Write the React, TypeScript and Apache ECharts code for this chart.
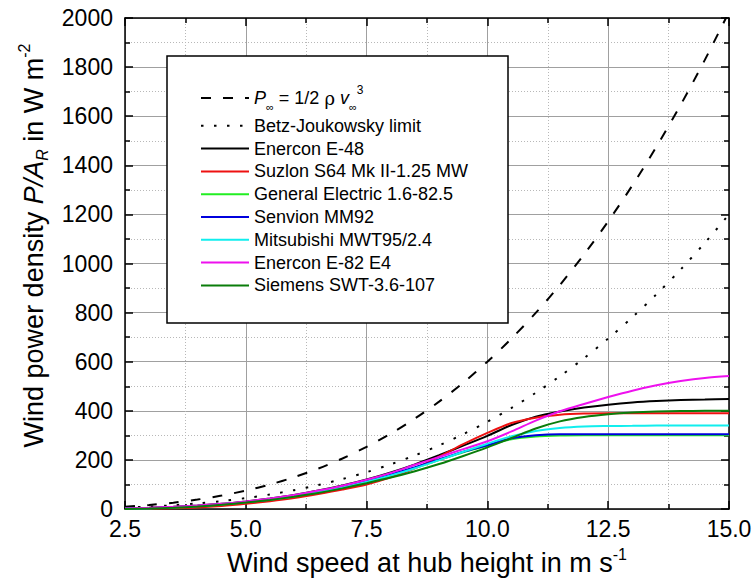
import React, { useEffect, useRef } from "react";
import * as echarts from "echarts";

const windSpeeds = [2.5, 3, 3.5, 4, 4.5, 5, 5.5, 6, 6.5, 7, 7.5, 8, 8.5, 9, 9.5, 10, 10.5, 11, 11.5, 12, 12.5, 13, 13.5, 14, 14.5, 15];

const windPower = [9.4, 16.2, 25.7, 38.4, 54.7, 75, 99.8, 129.6, 164.8, 205.8, 253.1, 307.2, 368.5, 437.4, 514.4, 600, 694.6, 798.6, 912.5, 1036.8, 1171.9, 1318.2, 1476.2, 1646.4, 1829.3, 2025];
const betzLimit = [5.6, 9.6, 15.2, 22.8, 32.4, 44.4, 59.2, 76.8, 97.6, 122, 150, 182, 218.4, 259.2, 304.8, 355.6, 411.6, 473.2, 540.8, 614.4, 694.4, 781.2, 874.8, 975.6, 1084, 1200];
const enerconE48 = [2, 5, 9, 14, 21, 31, 43, 57, 75, 96, 120, 149, 182, 219, 258, 298, 342, 376, 397, 413, 425, 434, 440, 444, 446, 448];
const suzlonS64 = [0, 1, 3, 6, 12, 21, 32, 45, 61, 79, 100, 129, 166, 213, 264, 310, 350, 372, 384, 389, 390, 390, 390, 390, 390, 390];
const ge16 = [1, 3, 6, 11, 18, 27, 38, 51, 68, 87, 110, 137, 167, 199, 231, 258, 284, 295, 299, 300, 300, 300, 300, 300, 300, 300];
const senvionMM92 = [1, 3, 7, 12, 19, 28, 39, 53, 70, 90, 113, 140, 170, 202, 233, 260, 288, 300, 304, 304, 304, 304, 304, 304, 304, 304];
const mitsubishiMWT95 = [1, 3, 7, 12, 19, 28, 39, 52, 69, 88, 111, 137, 166, 199, 233, 266, 296, 318, 330, 336, 338, 339, 340, 340, 340, 340];
const enerconE82 = [2, 5, 9, 14, 21, 31, 43, 57, 75, 95, 119, 147, 180, 212, 244, 276, 316, 360, 398, 428, 456, 482, 504, 521, 534, 542];
const siemensSWT36 = [0, 2, 5, 10, 17, 26, 37, 50, 65, 84, 105, 128, 154, 183, 216, 251, 289, 328, 357, 375, 386, 393, 397, 399, 400, 400];

const seriesNames = [
  "P_inf",
  "Betz-Joukowsky limit",
  "Enercon E-48",
  "Suzlon S64 Mk II-1.25 MW",
  "General Electric 1.6-82.5",
  "Senvion MM92",
  "Mitsubishi MWT95/2.4",
  "Enercon E-82 E4",
  "Siemens SWT-3.6-107",
];
const seriesValues = [windPower, betzLimit, enerconE48, suzlonS64, ge16, senvionMM92, mitsubishiMWT95, enerconE82, siemensSWT36];
const seriesColors = ["#000000", "#000000", "#000000", "#ee1111", "#22ee22", "#0000dd", "#11eeee", "#ee11ee", "#0a7d0a"];
const seriesDash: any[] = [[10, 12], [2.5, 10.5], "solid", "solid", "solid", "solid", "solid", "solid", "solid"];

const FONT = "'Liberation Sans', Arial, sans-serif";

export default function App() {
  const ref = useRef<HTMLDivElement>(null);
  useEffect(() => {
    if (!ref.current) return;
    const chart = echarts.init(ref.current, null, { renderer: "svg" });

    const series = seriesNames.map((name, k) => ({
      name,
      type: "line",
      data: windSpeeds.map((v, i) => [v, seriesValues[k][i]]),
      symbol: "none",
      showSymbol: false,
      smooth: 0.3,
      silent: true,
      clip: true,
      lineStyle: { color: seriesColors[k], width: 2, type: seriesDash[k] },
      itemStyle: { color: seriesColors[k] },
      z: 2,
    }));

    const minorSplit = { show: true, lineStyle: { color: "#b8b8b8", width: 1, type: [1, 2] } };
    const majorSplit = { show: true, lineStyle: { color: "#a0a0a0", width: 1, type: "solid" } };
    const axisLine = { show: true, onZero: false, lineStyle: { color: "#000", width: 1.5 } };
    const tick = { show: true, inside: true, length: 8, lineStyle: { color: "#000", width: 1.5 } };
    const minorTick = { show: true, splitNumber: 2, length: 5, lineStyle: { color: "#000", width: 1.5 } };

    const option: any = {
      animation: false,
      backgroundColor: "#fff",
      grid: { left: 125, right: 26, top: 18, bottom: 74, outerBoundsMode: "none", containLabel: false },
      xAxis: [
        {
          type: "value",
          min: 2.5,
          max: 15,
          interval: 2.5,
          position: "bottom",
          axisLine,
          axisTick: tick,
          minorTick,
          splitLine: majorSplit,
          minorSplitLine: minorSplit,
          axisLabel: { color: "#000", fontSize: 23, fontFamily: FONT, margin: 8, formatter: (v: number) => v.toFixed(1) },
          name: "Wind speed at hub height in m s{sup|-1}",
          nameLocation: "middle",
          nameGap: 37,
          nameTextStyle: {
            color: "#000",
            fontSize: 27,
            fontFamily: FONT,
            lineHeight: 34,
            rich: { sup: { fontSize: 16, fontFamily: FONT, color: "#000", lineHeight: 14, verticalAlign: "top" } },
          },
        },
        {
          type: "value",
          min: 2.5,
          max: 15,
          interval: 2.5,
          position: "top",
          axisLine,
          axisTick: tick,
          minorTick,
          splitLine: { show: false },
          axisLabel: { show: false },
        },
      ],
      yAxis: [
        {
          type: "value",
          min: 0,
          max: 2000,
          interval: 200,
          position: "left",
          axisLine,
          axisTick: tick,
          minorTick,
          splitLine: majorSplit,
          minorSplitLine: minorSplit,
          axisLabel: { color: "#000", fontSize: 23, fontFamily: FONT, margin: 12, formatter: (v: number) => String(v) },
          name: "Wind power density {i|P/A}{sub|R} in W m{sup|-2}",
          nameLocation: "middle",
          nameGap: 68,
          nameTextStyle: {
            color: "#000",
            fontSize: 27,
            fontFamily: FONT,
            lineHeight: 34,
            padding: [0, 0, 0, 36],
            rich: {
              i: { fontSize: 27, fontFamily: FONT, fontStyle: "italic", color: "#000", lineHeight: 34 },
              sub: { fontSize: 16, fontFamily: FONT, fontStyle: "italic", color: "#000", lineHeight: 12, verticalAlign: "bottom" },
              sup: { fontSize: 16, fontFamily: FONT, color: "#000", lineHeight: 14, verticalAlign: "top" },
            },
          },
        },
        {
          type: "value",
          min: 0,
          max: 2000,
          interval: 200,
          position: "right",
          axisLine,
          axisTick: tick,
          minorTick,
          splitLine: { show: false },
          axisLabel: { show: false },
        },
      ],
      graphic: {
        z: 3,
        elements: [
          {
            type: "rect",
            z: 3,
            silent: true,
            shape: { x: 167, y: 56, width: 341, height: 267 },
            style: { fill: "#fff", stroke: "#000", lineWidth: 1.5 },
          },
        ],
      },
      legend: {
        orient: "vertical",
        left: 200,
        top: 84,
        padding: 0,
        itemGap: 4.8,
        itemWidth: 48,
        itemHeight: 14,
        selectedMode: false,
        z: 4,
        itemStyle: { opacity: 0, borderWidth: 0 },
        data: seriesNames,
        formatter: (name: string) =>
          name === "P_inf" ? "{i|P}{sub|∞}{n| = 1/2 }{g|ρ}{n| }{i|v}{sub|∞}{sup|3}" : name,
        textStyle: {
          color: "#000",
          fontSize: 18,
          fontFamily: FONT,
          lineHeight: 18,
          rich: {
            n: { fontSize: 18, fontFamily: FONT, color: "#000", lineHeight: 28 },
            i: { fontSize: 18, fontFamily: FONT, fontStyle: "italic", color: "#000", lineHeight: 28 },
            g: { fontSize: 18, fontFamily: "'DejaVu Serif', serif", color: "#000", lineHeight: 28 },
            sub: { fontSize: 11, fontFamily: FONT, color: "#000", lineHeight: 8, verticalAlign: "bottom" },
            sup: { fontSize: 12, fontFamily: FONT, color: "#000", lineHeight: 16, verticalAlign: "top" },
          },
        },
      },
      series,
    };
    chart.setOption(option);
    return () => chart.dispose();
  }, []);
  return <div ref={ref} style={{ width: 755, height: 583, position: "absolute", left: 0, top: 0 }} />;
}
